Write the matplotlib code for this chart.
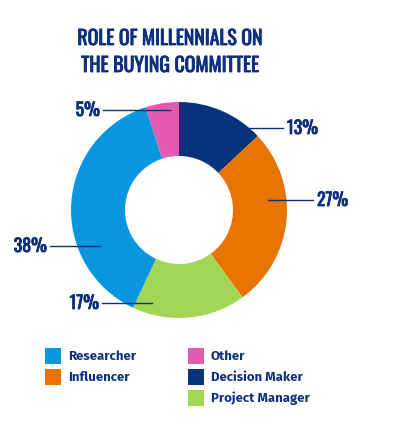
import matplotlib.pyplot as plt
import matplotlib.patheffects as pe
from matplotlib.patches import Rectangle

# data
roles = ['Decision Maker', 'Influencer', 'Project Manager', 'Researcher', 'Other']
shares = [13, 27, 17, 38, 5]
colors = ['#06347c', '#e87400', '#a3d655', '#0896df', '#e45ab0']

legend_order = ['Researcher', 'Influencer', 'Other', 'Decision Maker', 'Project Manager']

NAVY = '#0d2f7e'
W, H = 394, 433

fig = plt.figure(figsize=(W / 100, H / 100), dpi=100)
ax = fig.add_axes([0, 0, 1, 1])

cx, cy, R = 179, H - 210, 108
ax.pie(shares, colors=colors, startangle=90, counterclock=False,
       center=(cx, cy), radius=R, frame=True,
       wedgeprops=dict(width=R * 0.5, linewidth=0))
ax.set_xlim(0, W)
ax.set_ylim(0, H)
ax.axis('off')

# Oswald is a variable font here, so thicken it a little with a stroke
heavy = [pe.withStroke(linewidth=0.6, foreground=NAVY)]
title_font = dict(family='Oswald', color=NAVY, path_effects=heavy)
ax.text(170, H - 38, 'ROLE OF MILLENNIALS ON', ha='center', va='center',
        fontsize=14.3, **title_font)
ax.text(170, H - 65, 'THE BUYING COMMITTEE', ha='center', va='center',
        fontsize=14.3, **title_font)

# leader lines: (line start, line end, label x, alignment)
callouts = {
    'Decision Maker': ((248, 128), (283, 128), 287, 'left'),
    'Influencer': ((268, 200), (313, 200), 317, 'left'),
    'Project Manager': ((152, 303), (102, 303), 99, 'right'),
    'Researcher': ((100, 246), (50, 246), 47, 'right'),
    'Other': ((170, 110), (103, 110), 100, 'right'),
}
for role, share in zip(roles, shares):
    (x0, y0), (x1, y1), tx, ha = callouts[role]
    ax.plot([x0, x1], [H - y0, H - y1], color=NAVY, lw=1)
    ax.text(tx, H - y1, f'{share}%', ha=ha, va='center', fontsize=12.8,
            **title_font)

# legend
slots = [(45, 356), (45, 377), (188, 356), (188, 377), (188, 398)]
for role, (lx, ly) in zip(legend_order, slots):
    c = colors[roles.index(role)]
    ax.add_patch(Rectangle((lx, H - ly - 8), 16, 16, color=c, lw=0))
    ax.text(lx + 23, H - ly, role, ha='left', va='center', fontsize=9.5,
            family='Fira Sans', weight=700, color=NAVY)

fig.savefig('out.png', dpi=100)
